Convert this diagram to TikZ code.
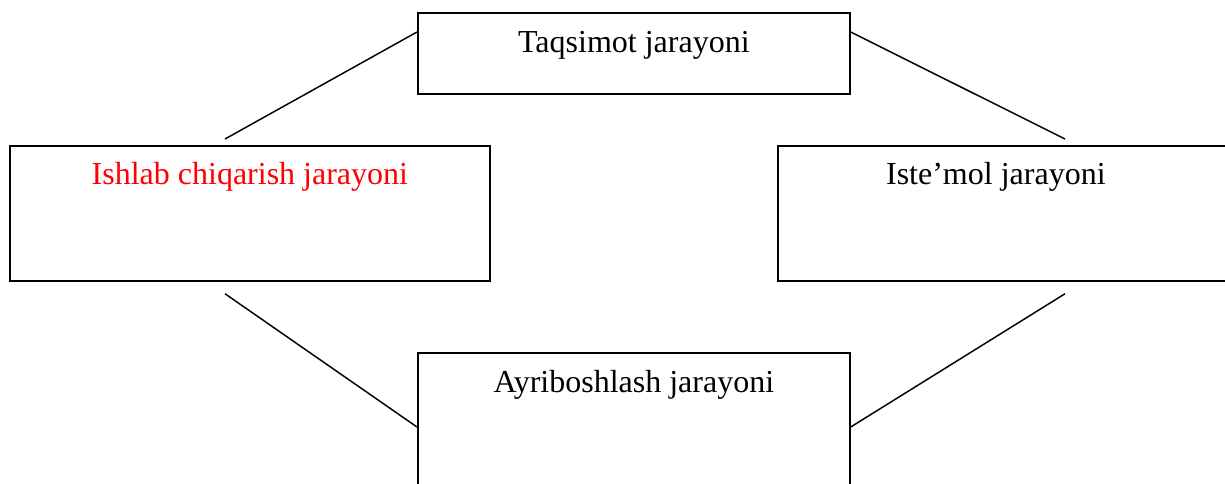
\documentclass[tikz,border=0pt]{standalone}
\usepackage{fontspec}
\setmainfont{Liberation Serif}
\usepackage{xcolor}
\usetikzlibrary{positioning}

\begin{document}
\begin{tikzpicture}[
    x=0.75pt, y=-0.75pt,
    box/.style={rectangle, draw, line width=1.3pt, inner sep=0pt, anchor=north west, font=\fontsize{24}{28}\selectfont},
    wide/.style={box, minimum width=360pt, text height=29.25pt, text depth=72pt},
    narrow/.style={box, minimum width=324pt, text height=30pt},
    link/.style={line width=1.1pt}
]
    \useasboundingbox (0,0) rectangle (1225,483);

    % Boxes
    \node[narrow, text depth=30.75pt] (taqsimot) at (417,12) {Taqsimot jarayoni};
    \node[wide, text=red] (ishlab) at (9,145) {Ishlab chiqarish jarayoni};
    \node[wide] (istemol) at (777,145) {Iste’mol jarayoni\kern33pt};
    \node[narrow, text depth=120pt] (ayri) at (417,352) {Ayriboshlash jarayoni};

    % Links
    \draw[link] ([xshift=162pt, yshift=4.5pt]ishlab.north west) -- ([yshift=-15pt]taqsimot.north west);
    \draw[link] ([yshift=-15pt]taqsimot.north east) -- ([xshift=216pt, yshift=4.5pt]istemol.north west);
    \draw[link] ([xshift=162pt, yshift=-9pt]ishlab.south west) -- ([yshift=-56.25pt]ayri.north west);
    \draw[link] ([xshift=216pt, yshift=-9pt]istemol.south west) -- ([yshift=-56.25pt]ayri.north east);
\end{tikzpicture}
\end{document}
